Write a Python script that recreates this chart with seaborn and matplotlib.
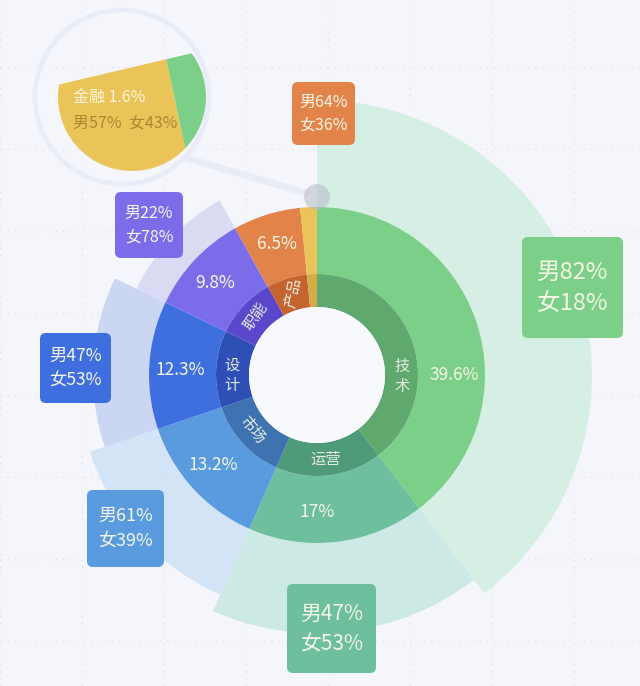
import matplotlib
matplotlib.use("Agg")
import matplotlib.pyplot as plt
from matplotlib.patches import Wedge, Circle, FancyBboxPatch, Polygon
import numpy as np
import seaborn as sns

# data
categories = ["技术", "运营", "市场", "设计", "职能", "产品", "金融"]
shares = [39.6, 17, 13.2, 12.3, 9.8, 6.5, 1.6]
male_pct = [82, 47, 61, 47, 22, 64, 57]
female_pct = [18, 53, 39, 53, 78, 36, 43]

# styling
ring_colors = sns.color_palette(["#7bcf89", "#6dbf9d", "#5a9be0", "#3f6fdf", "#7b6cea", "#e2834a", "#ebc459"])
dark_colors = sns.color_palette(["#5fa96e", "#4f9a78", "#3f72b1", "#2e4fb6", "#5b47cc", "#c4642f", "#d3ad45"])
fan_colors = ["#d3efe3", "#c8e8e3", "#cfe2f6", "#c6d3f1", "#d8d8f3", None, None]
fan_radius = [275, 258, 240, 224, 200, None, None]

sns.set_theme(style="white")
plt.rcParams["font.family"] = ["Noto Sans CJK SC", "DejaVu Sans"]

W, H = 640, 686
BG = "#f5f6fc"
cx, cy = 317, 375
r_hole, r_mid, r_out = 68, 101, 168

fig = plt.figure(figsize=(6.4, 6.86), dpi=100, facecolor=BG)
ax = fig.add_axes([0, 0, 1, 1])
ax.set_xlim(0, W)
ax.set_ylim(H, 0)
ax.set_facecolor(BG)
ax.set_axis_off()

# faint dotted grid
for gx in np.arange(0, W, 82):
    ax.axvline(gx, color="#e2e4f0", lw=1, ls=(0, (1, 4)), zorder=0)
for gy in np.arange(313 - 82 * 3, H, 82):
    ax.axhline(gy, color="#e2e4f0", lw=1, ls=(0, (1, 4)), zorder=0)


def pos(theta, r):
    t = np.radians(theta)
    return cx + r * np.sin(t), cy - r * np.cos(t)


ends = np.cumsum(shares) / 100 * 360
starts = np.concatenate([[0], ends[:-1]])

# fans, ring and inner ring (clockwise from 12 o'clock, y axis points down)
for i in range(len(categories)):
    t1, t2 = starts[i] - 90, ends[i] - 90
    if fan_radius[i]:
        ax.add_patch(Wedge((cx, cy), fan_radius[i], t1, t2, width=fan_radius[i] - r_out,
                           facecolor=fan_colors[i], edgecolor="none", alpha=0.9, zorder=1))
    ax.add_patch(Wedge((cx, cy), r_out, t1, t2, width=r_out - r_mid,
                       facecolor=ring_colors[i], edgecolor="none", zorder=2))
    ax.add_patch(Wedge((cx, cy), r_mid, t1, t2, width=r_mid - r_hole,
                       facecolor=dark_colors[i], edgecolor="none", zorder=2))
ax.add_patch(Circle((cx, cy), r_hole, facecolor="#f8f9fd", edgecolor="none", zorder=2))

# share labels
pct_theta = [90, 180, 229, 272, 312, 343]
for i, th in enumerate(pct_theta):
    x, y = pos(th, 137)
    ax.text(x, y, f"{shares[i]:g}%", ha="center", va="center", fontsize=12.5,
            color="#f5f6e2", zorder=4)

# category labels in the dark ring
cat_theta = [91, 174, 230, 270, 314, 344]
cat_rot = [0, 0, -50, 0, 55, 78]
cat_stack = [True, False, False, True, False, False]
for i, th in enumerate(cat_theta):
    x, y = pos(th, 85)
    name = "\n".join(categories[i]) if cat_stack[i] else categories[i]
    ax.text(x, y, name, ha="center", va="center", fontsize=11, rotation=cat_rot[i],
            color="#e4ecde", linespacing=1.25, zorder=4)

# gender boxes
boxes = [(522, 237, 623, 338, 17), (287, 584, 376, 673, 15), (87, 490, 164, 567, 13),
         (40, 333, 111, 403, 12.5), (115, 192, 183, 258, 11.5), (292, 82, 355, 145, 11.5)]
for i, (x0, y0, x1, y1, fs) in enumerate(boxes):
    ax.add_patch(FancyBboxPatch((x0, y0), x1 - x0, y1 - y0,
                                boxstyle="round,pad=0,rounding_size=6",
                                facecolor=ring_colors[i], edgecolor="none", zorder=5))
    ax.text((x0 + x1) / 2, (y0 + y1) / 2, f"男{male_pct[i]}%\n女{female_pct[i]}%",
            ha="center", va="center", fontsize=fs, color="#f4f6e6", linespacing=1.45, zorder=6)

# magnifier for the small 金融 slice
ax.add_patch(Circle((122, 97), 87, facecolor="none", edgecolor="#e9ecf7", lw=3.5, zorder=3))
ax.plot([186, 306], [158, 193], color="#e9ecf7", lw=5, solid_capstyle="round", zorder=3)
ax.add_patch(Circle((cx, 197), 13, facecolor="#b6bac6", edgecolor="none", alpha=0.55, zorder=4))


def chord_y(x):
    return 85 + (52 - 85) / (197 - 57) * (x - 57)


def div_x(y):
    return 165 + (185 - 165) / (147 - 53) * (y - 53)


# intersection of chord and divider
py = 53.0
for _ in range(20):
    py = chord_y(div_x(py))
p1 = (div_x(py), py)
lens_c, lens_r = (132, 97), 74
left_clip = Polygon([(-20, chord_y(-20)), p1, (div_x(320), 320), (-20, 320)], closed=True,
                    transform=ax.transData, facecolor="none", edgecolor="none")
right_clip = Polygon([p1, (320, chord_y(320)), (320, 320), (div_x(320), 320)], closed=True,
                     transform=ax.transData, facecolor="none", edgecolor="none")
yellow = Circle(lens_c, lens_r, facecolor=ring_colors[6], edgecolor="none", zorder=5)
green = Circle(lens_c, lens_r, facecolor=ring_colors[0], edgecolor="none", zorder=5)
ax.add_patch(yellow)
ax.add_patch(green)
yellow.set_clip_path(left_clip)
green.set_clip_path(right_clip)
ax.text(73, 97, f"{categories[6]} {shares[6]:g}%", ha="left", va="center", fontsize=11.5,
        color="#fff6dc", zorder=6)
ax.text(73, 123, f"男{male_pct[6]}%  女{female_pct[6]}%", ha="left", va="center", fontsize=11.5,
        color="#a8892f", zorder=6)

fig.savefig("out.png", dpi=100, facecolor=BG)
